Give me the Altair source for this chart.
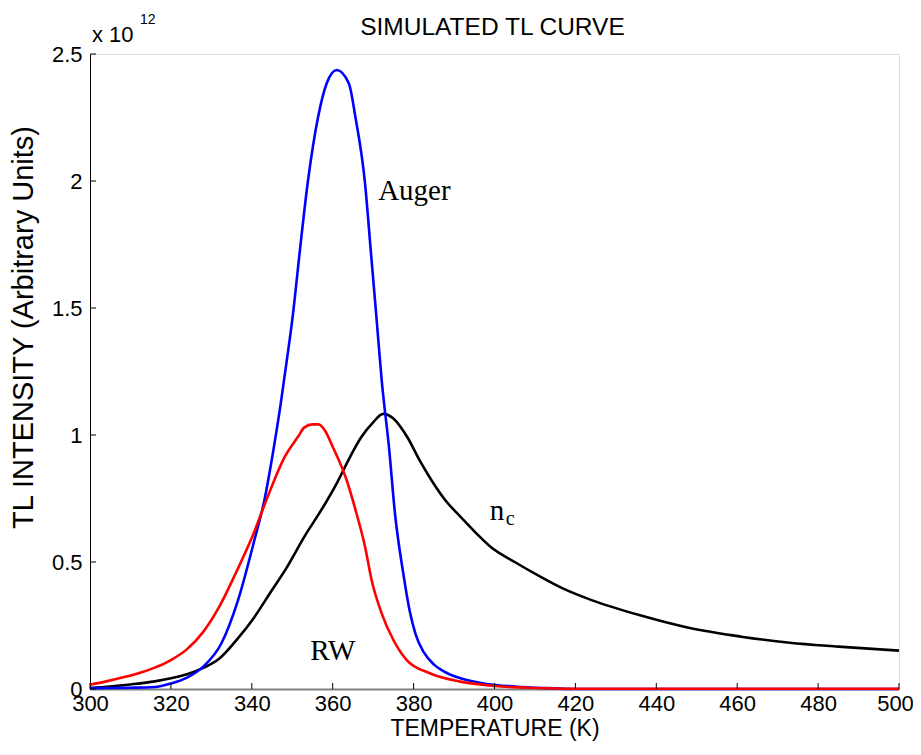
import altair as alt
import pandas as pd

# ---- data (intensity in units of 10^12) ----
auger_T = [300, 305, 310, 316, 320, 324, 328, 332.5, 336.6, 340.7, 343.2, 344.8, 347.3, 348,
           350.1, 351.9, 353.8, 356.4, 358.5, 361, 364, 365.6, 368, 369.4, 370.8, 372.1,
           373.9, 375.4, 377.5, 379, 380.5, 382.5, 385, 388, 392, 398, 405, 412, 420, 500]
auger_I = [0.003, 0.004, 0.005, 0.008, 0.022, 0.045, 0.088, 0.18, 0.35, 0.59, 0.75, 0.89, 1.14, 1.22,
           1.466, 1.728, 1.99, 2.253, 2.384, 2.437, 2.384, 2.253, 1.99, 1.728, 1.466, 1.217,
           0.954, 0.69, 0.45, 0.31, 0.215, 0.145, 0.097, 0.065, 0.04, 0.02, 0.01, 0.004, 0.0, 0.0]

rw_T = [300, 304, 307.7, 312, 316, 320, 324, 328, 332, 336, 340, 344, 348, 351.5,
        353, 355, 356.5, 358, 360, 363.5, 365.9, 368, 369.6, 372.1, 375, 378.3, 384, 391.5,
        400, 410, 420, 500]
rw_I = [0.017, 0.03, 0.044, 0.062, 0.084, 0.114, 0.157, 0.225, 0.325, 0.455, 0.595, 0.76, 0.91, 0.995,
        1.03, 1.042, 1.042, 1.02, 0.954, 0.82, 0.69, 0.56, 0.43, 0.298, 0.193, 0.114, 0.062, 0.029,
        0.012, 0.004, 0.001, 0.001]

nc_T = [300, 305, 310, 316, 320, 324, 328, 332, 336.6, 340.5, 344.8, 348.7, 353, 357, 361, 364.5,
        367, 370, 372.5, 375, 378.5, 381.5, 384.5, 388, 391.5, 396, 399, 405, 411, 417, 424, 436,
        448, 461, 473, 485, 500]
nc_I = [0.004, 0.01, 0.018, 0.03, 0.042, 0.058, 0.083, 0.12, 0.2, 0.28, 0.385, 0.48, 0.60, 0.70,
        0.81, 0.92, 0.99, 1.05, 1.083, 1.065, 0.99, 0.90, 0.82, 0.74, 0.68, 0.605, 0.56, 0.5, 0.445,
        0.395, 0.35, 0.29, 0.241, 0.206, 0.182, 0.167, 0.151]

x_ticks = [300, 320, 340, 360, 380, 400, 420, 440, 460, 480, 500]
y_ticks = [0, 0.5, 1, 1.5, 2, 2.5]

label_text = ["Auger", "RW", "n"]
label_T = [380.2, 360.0, 400.6]
label_I = [1.925, 0.115, 0.665]
sub_text = ["c"]
sub_T = [403.9]
sub_I = [0.647]

# ---- tables ----
df = pd.concat([
    pd.DataFrame({"T": nc_T, "I": nc_I, "s": "nc"}),
    pd.DataFrame({"T": auger_T, "I": auger_I, "s": "Auger"}),
    pd.DataFrame({"T": rw_T, "I": rw_I, "s": "RW"}),
])
lab_df = pd.DataFrame({"txt": label_text, "T": label_T, "I": label_I})
sub_df = pd.DataFrame({"txt": sub_text, "T": sub_T, "I": sub_I})
xt_df = pd.DataFrame({"T": x_ticks})
yt_df = pd.DataFrame({"I": y_ticks})

W, H = 809, 635
FONT = "Liberation Sans"
xs = alt.Scale(domain=[300, 500], nice=False, zero=False)
ys = alt.Scale(domain=[0, 2.5], nice=False)

x_axis = alt.Axis(values=x_ticks, title="TEMPERATURE (K)", ticks=False, grid=False,
                  domainColor="#808080", domainWidth=2, labelFont=FONT, labelFontSize=22,
                  labelColor="black", titleFont=FONT, titleFontSize=23, titleFontWeight="normal",
                  titleColor="black", labelPadding=4, titlePadding=3, labelFlush=False,
                  labelOffset={"condition": {"test": "datum.value == 500", "value": -4}, "value": 0})
y_axis = alt.Axis(values=y_ticks, title="TL INTENSITY (Arbitrary Units)", ticks=False, grid=False,
                  domainColor="black", domainWidth=1, labelFont=FONT, labelFontSize=22,
                  labelColor="black", titleFont=FONT, titleFontSize=29, titleFontWeight="normal",
                  titleColor="black", labelPadding=8, titlePadding=13, labelExpr="'' + datum.value",
                  labelFlush=False, titleY=273)

def line(name, color):
    return alt.Chart(df).transform_filter(alt.datum.s == name).mark_line(
        color=color, strokeWidth=2.6, interpolate="monotone"
    ).encode(
        x=alt.X("T:Q", scale=xs, axis=x_axis),
        y=alt.Y("I:Q", scale=ys, axis=y_axis),
    )

xt = alt.Chart(xt_df).mark_rule(color="black", strokeWidth=1).encode(
    x=alt.X("T:Q", scale=xs), y=alt.value(H), y2=alt.value(H - 6))
yt = alt.Chart(yt_df).mark_rule(color="black", strokeWidth=1).encode(
    y=alt.Y("I:Q", scale=ys), x=alt.value(0), x2=alt.value(6))

labels = alt.Chart(lab_df).mark_text(font="Liberation Serif", fontSize=29, color="black",
                                     align="center", baseline="alphabetic").encode(
    x=alt.X("T:Q", scale=xs), y=alt.Y("I:Q", scale=ys), text="txt:N")
subs = alt.Chart(sub_df).mark_text(font="Liberation Serif", fontSize=20, color="black",
                                   align="center", baseline="alphabetic").encode(
    x=alt.X("T:Q", scale=xs), y=alt.Y("I:Q", scale=ys), text="txt:N")

title_df = pd.DataFrame({"txt": ["SIMULATED TL CURVE"]})
title = alt.Chart(title_df).mark_text(font=FONT, fontSize=24.5, color="black", align="center",
                                      baseline="alphabetic").encode(
    text="txt:N", x=alt.value(W / 2 - 2), y=alt.value(-19))

exp_df = pd.DataFrame({"txt": ["x 10"]})
exp2_df = pd.DataFrame({"txt": ["12"]})
exp1 = alt.Chart(exp_df).mark_text(font=FONT, fontSize=22, color="black", align="left",
                                   baseline="alphabetic").encode(
    text="txt:N", x=alt.value(2), y=alt.value(-12))
exp2 = alt.Chart(exp2_df).mark_text(font=FONT, fontSize=14, color="black", align="left",
                                    baseline="alphabetic").encode(
    text="txt:N", x=alt.value(50), y=alt.value(-30))

chart = alt.layer(
    line("nc", "#000000"), line("Auger", "#0000ff"), line("RW", "#ff0000"),
    xt, yt, labels, subs, title, exp1, exp2
).properties(
    width=W, height=H,
    autosize=alt.AutoSizeParams(type="none"),
    padding={"left": 82, "top": 46, "right": 14, "bottom": 54},
).configure_view(stroke=None).configure(background="white")

chart.save("out.html", embed_options={"renderer": "svg", "actions": False})
